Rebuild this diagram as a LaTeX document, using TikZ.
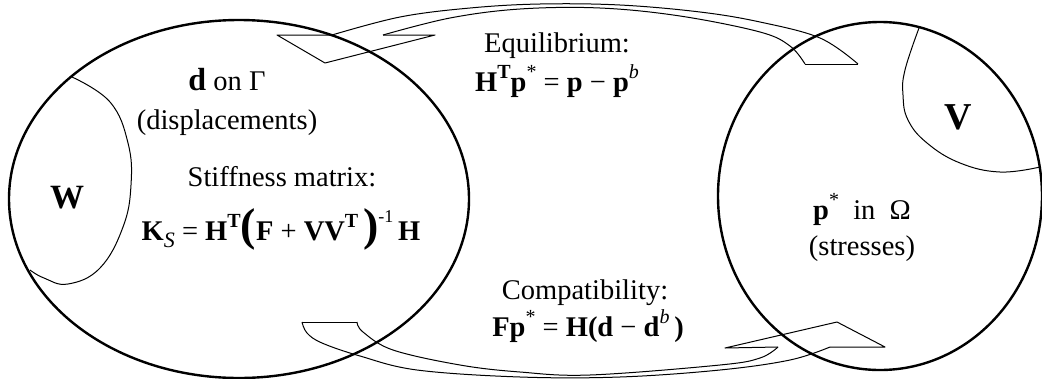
\documentclass[tikz,border=0pt]{standalone}
\usepackage{fontspec}
\setmainfont{Liberation Serif}
\usetikzlibrary{shapes.geometric}
\newcommand{\sups}[1]{\raisebox{0.45em}{\fontsize{20}{20}\selectfont #1}}
\newcommand{\bigpar}[1]{{\fontsize{46}{46}\selectfont\bfseries #1}}
\begin{document}
\begin{tikzpicture}[x=1pt,y=-1pt,line join=round,
  bigellipse/.style={draw, ellipse, line width=2.4pt, inner sep=0pt},
  thincurve/.style={line width=1pt},
  arrowline/.style={line width=1pt},
  lbl/.style={inner sep=0pt, anchor=base, font=\fontsize{28.5}{30}\selectfont},
  letter/.style={inner sep=0pt, anchor=base, font=\fontsize{34}{34}\selectfont\bfseries}]
\useasboundingbox (0,0) rectangle (1042,378);

% big ellipses
\node[bigellipse, minimum width=460pt, minimum height=358pt] (left) at (239,199) {};
\node[bigellipse, minimum width=324pt, minimum height=348pt] (right) at (880,196) {};

% W and V regions
\draw[thincurve] plot[smooth, tension=0.7] coordinates {(72,77) (110,102) (128,143) (131,185) (123,227) (100,268) (68,284) (44,278) (30,270)};
\draw[thincurve] plot[smooth, tension=0.7] coordinates {(919,28) (905,70) (903,95) (908,120) (927,143) (960,163) (1000,172) (1040,167)};

% top curved arrow (tail at right, head at left pointing down)
\coordinate (tha) at (277,35);
\coordinate (thtip) at (325,63);
\coordinate (thb) at (435,35);
\coordinate (tbo) at (332,35);
\coordinate (tbi) at (383,35);
\coordinate (ttl) at (805,64);
\coordinate (ttr) at (858,64);
\draw[arrowline] (tbo) -- (tha) -- (thtip) -- (thb) -- (tbi);
\draw[arrowline] (ttl) -- (ttr);
\draw[arrowline] plot[smooth, tension=0.6] coordinates {(332,35) (400,17) (470,8) (540,4) (620,5) (700,12) (760,22) (820,38) (858,64)};
\draw[arrowline] plot[smooth, tension=0.6] coordinates {(383,35) (450,18) (520,9) (600,8) (680,16) (760,32) (790,46) (805,64)};

% bottom curved arrow (tail at left, head at right pointing up)
\coordinate (bha) at (725,348);
\coordinate (bhtip) at (837,322);
\coordinate (bhb) at (885,347);
\coordinate (bbi) at (778,347);
\coordinate (bbo) at (830,347);
\coordinate (btl) at (302,322);
\coordinate (btr) at (357,322);
\draw[arrowline] (bbi) -- (bha) -- (bhtip) -- (bhb) -- (bbo);
\draw[arrowline] (btl) -- (btr);
\draw[arrowline] plot[smooth, tension=0.6] coordinates {(302,322) (307,333) (322,343) (360,356) (417,370) (520,377) (620,377) (720,370) (790,360) (830,347)};
\draw[arrowline] plot[smooth, tension=0.6] coordinates {(357,322) (363,332) (393,350) (460,365) (520,372) (590,375) (720,365) (760,358) (778,347)};

% labels
\node[letter] (wlab) at (67,208) {W};
\node[letter, font=\fontsize{38}{38}\selectfont\bfseries] (vlab) at (958,129) {V};

\node[lbl] (dlab) at (227,90) {{\fontsize{32}{32}\selectfont\bfseries d} on Γ};
\node[lbl] (displ) at (227,129) {(displacements)};
\node[lbl] (stiff) at (282,186) {Stiffness matrix:};
\node[lbl] (kform) at (281,240) {\textbf{K}\raisebox{-0.25em}{\fontsize{22}{22}\selectfont\itshape S} = \textbf{H}\sups{\bfseries T}\bigpar{(}\textbf{F} + \textbf{VV}\sups{\bfseries T}\,\bigpar{)}\raisebox{0.6em}{\fontsize{18}{18}\selectfont -1}\,\textbf{H}};

\node[lbl] (equi) at (557,52) {Equilibrium:};
\node[lbl] (eqform) at (557,91) {\textbf{H}\sups{\bfseries T}\textbf{p}\sups{*} = \textbf{p} − \textbf{p}\sups{\itshape b}};

\node[lbl] (plab) at (862,219) {\textbf{p}\sups{*}\ \ in \ Ω};
\node[lbl] (stress) at (862,255) {(stresses)};

\node[lbl] (compat) at (585,299) {Compatibility:};
\node[lbl] (cform) at (588,336) {\textbf{Fp}\sups{*} = \textbf{H(d} − \textbf{d}\sups{\itshape b}\,\textbf{)}};
\end{tikzpicture}
\end{document}
